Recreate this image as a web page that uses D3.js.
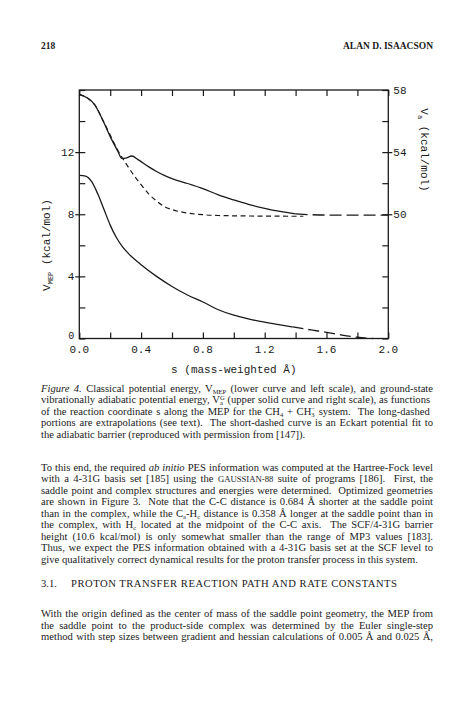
<!DOCTYPE html>
<html><head><meta charset="utf-8">
<script src="https://cdn.jsdelivr.net/npm/d3@7"></script>
<style>
html,body{margin:0;padding:0;background:#fff;}
svg{display:block;}
</style></head>
<body>
<script>
// ---- data ----
const sTicks = [0,0.2,0.4,0.6,0.8,1.0,1.2,1.4,1.6,1.8,2.0];
const sLabels = ["0.0","0.4","0.8","1.2","1.6","2.0"];
const leftTicks = [0,2,4,6,8,10,12,14,16];
const leftLabels = [0,4,8,12];
const rightTicks = [42,44,46,48,50,52,54,56,58];
const rightLabels = [50,54,58];

// V_MEP, lower curve, left scale (solid computed part)
const vmepS = [0,0.04,0.08,0.12,0.16,0.2,0.24,0.28,0.32,0.4,0.5,0.6,0.7,0.8,0.9,1.0,1.1,1.2,1.3,1.38];
const vmepV = [10.5,10.45,10.1,9.3,8.3,7.3,6.5,5.9,5.45,4.75,4.0,3.35,2.8,2.35,1.85,1.5,1.25,1.05,0.88,0.75];
// V_MEP extrapolation (long-dashed)
const vmepExtS = [1.38,1.5,1.6,1.7,1.8,1.9];
const vmepExtV = [0.75,0.55,0.4,0.22,0.08,0.0];

// V_a^G, upper solid curve, right scale
const vagS = [0,0.05,0.1,0.15,0.2,0.25,0.275,0.3,0.34,0.38,0.45,0.5,0.55,0.6,0.7,0.8,0.9,1.0,1.1,1.2,1.3,1.4];
const vagV = [57.72,57.5,57.05,56.1,55.0,54.05,53.6,53.62,53.75,53.52,53.05,52.75,52.5,52.3,51.98,51.65,51.25,50.92,50.62,50.38,50.18,50.02];
// V_a^G extrapolation (long-dashed)
const vagExtS = [1.4,1.5,1.6,1.8,2.0];
const vagExtV = [50.02,49.97,49.95,49.95,49.95];

// Eckart fit, short-dashed, right scale
const eckS = [0,0.05,0.1,0.15,0.2,0.25,0.3,0.35,0.4,0.45,0.5,0.55,0.6,0.7,0.8,0.9,1.0,1.2,1.45];
const eckV = [57.72,57.5,57.05,56.1,55.1,54.1,53.3,52.55,51.9,51.3,50.85,50.5,50.3,50.08,49.97,49.92,49.9,49.88,49.87];

// ---- page text ----
const header = {left:"218", right:"ALAN D. ISAACSON"};
const captionLines = [
 [["i","Figure 4."],["n"," Classical potential energy, V"],["sub","MEP"],["n"," (lower curve and left scale), and ground-state"]],
 [["n","vibrationally adiabatic potential energy, V"],["supsub",["G","a"]],["n"," (upper solid curve and right scale), as functions"]],
 [["n","of the reaction coordinate s along the MEP for the CH"],["sub","4"],["n"," + CH"],["supsub",["\u2212","3"]],["n"," system.  The long-dashed"]],
 [["n","portions are extrapolations (see text).  The short-dashed curve is an Eckart potential fit to"]],
 [["n","the adiabatic barrier (reproduced with permission from [147])."]]
];
const bodyLines = [
 [["n","To this end, the required "],["i","ab initio"],["n"," PES information was computed at the Hartree-Fock level"]],
 [["n","with a 4-31G basis set [185] using the "],["sc","GAUSSIAN-88"],["n"," suite of programs [186].  First, the"]],
 [["n","saddle point and complex structures and energies were determined.  Optimized geometries"]],
 [["n","are shown in Figure 3.  Note that the C-C distance is 0.684 \u00c5 shorter at the saddle point"]],
 [["n","than in the complex, while the C"],["sub","a"],["n","-H"],["sub","c"],["n"," distance is 0.358 \u00c5 longer at the saddle point than in"]],
 [["n","the complex, with H"],["sub","c"],["n"," located at the midpoint of the C-C axis.  The SCF/4-31G barrier"]],
 [["n","height (10.6 kcal/mol) is only somewhat smaller than the range of MP3 values [183]."]],
 [["n","Thus, we expect the PES information obtained with a 4-31G basis set at the SCF level to"]],
 [["n","give qualitatively correct dynamical results for the proton transfer process in this system."]]
];
const heading = ["3.1.", "PROTON TRANSFER REACTION PATH AND RATE CONSTANTS"];
const para2Lines = [
 [["n","With the origin defined as the center of mass of the saddle point geometry, the MEP from"]],
 [["n","the saddle point to the product-side complex was determined by the Euler single-step"]],
 [["n","method with step sizes between gradient and hessian calculations of 0.005 \u00c5 and 0.025 \u00c5,"]]
];

// ---- drawing ----
const W=474, H=718;
const svg = d3.select("body").append("svg").attr("width",W).attr("height",H);
svg.append("rect").attr("width",W).attr("height",H).attr("fill","#fff");

const ink = "#1a1a1a";
const mono = "'Liberation Mono','DejaVu Sans Mono',monospace";
const serif = "'Liberation Serif','DejaVu Serif',serif";

const x = d3.scaleLinear().domain([0,2]).range([79.3,388.3]);
const yL = d3.scaleLinear().domain([0,16]).range([338.5,90]);
const yR = d3.scaleLinear().domain([42,58]).range([338.5,90]);

const g = svg.append("g");
g.append("rect").attr("x",x(0)).attr("y",yL(16)).attr("width",x(2)-x(0)).attr("height",yL(0)-yL(16))
 .attr("fill","none").attr("stroke",ink).attr("stroke-width",1.3);

const tl = 6;
const bAxis = d3.axisBottom(x).tickValues(sTicks).tickSizeInner(-tl).tickSizeOuter(0).tickFormat("");
const axB = g.append("g").attr("transform",`translate(0,${yL(0)})`).call(bAxis);
const tAxis = d3.axisTop(x).tickValues(sTicks).tickSizeInner(-tl).tickSizeOuter(0).tickFormat("");
const axT = g.append("g").attr("transform",`translate(0,${yL(16)})`).call(tAxis);
const lAxis = d3.axisLeft(yL).tickValues(leftTicks).tickSizeInner(-tl).tickSizeOuter(0).tickFormat("");
const axL = g.append("g").attr("transform",`translate(${x(0)},0)`).call(lAxis);
const rAxis = d3.axisRight(yR).tickValues(rightTicks).tickSizeInner(-tl).tickSizeOuter(0).tickFormat("");
const axR = g.append("g").attr("transform",`translate(${x(2)},0)`).call(rAxis);
[axB,axT,axL,axR].forEach(a=>{
  a.select(".domain").remove();
  a.selectAll("line").attr("stroke",ink).attr("stroke-width",1.2);
});
axL.selectAll(".tick").filter(d=>leftLabels.includes(d)&&d!==0).append("line")
  .attr("x1",0).attr("x2",-4).attr("stroke",ink).attr("stroke-width",1.2);
axR.selectAll(".tick").filter(d=>rightLabels.includes(d)&&d!==58).append("line")
  .attr("x1",0).attr("x2",4).attr("stroke",ink).attr("stroke-width",1.2);

g.selectAll(".xl").data(sLabels).join("text")
 .attr("x",d=>x(+d)).attr("y",yL(0)+14.5).attr("text-anchor","middle")
 .attr("font-family",mono).attr("font-size",11).attr("fill",ink).text(d=>d);
g.selectAll(".yl").data(leftLabels).join("text")
 .attr("x",x(0)-5).attr("y",d=>d===0?yL(d)+0.5:yL(d)+3.5).attr("text-anchor","end")
 .attr("font-family",mono).attr("font-size",d=>d===0?10:11).attr("fill",ink).text(d=>d);
g.selectAll(".yr").data(rightLabels).join("text")
 .attr("x",x(2)+5).attr("y",d=>yR(d)+3.5).attr("text-anchor","start")
 .attr("font-family",mono).attr("font-size",11).attr("fill",ink).text(d=>d);

g.append("text").attr("x",(x(0)+x(2))/2).attr("y",yL(0)+34).attr("text-anchor","middle")
 .attr("font-family",mono).attr("font-size",11).attr("fill",ink).text("s (mass-weighted \u00c5)");
const lt = g.append("text").attr("transform",`translate(50,245) rotate(-90)`).attr("text-anchor","middle")
 .attr("font-family",mono).attr("font-size",11).attr("fill",ink);
lt.append("tspan").text("V");
lt.append("tspan").attr("font-size",7).attr("dy",3).text("MEP");
lt.append("tspan").attr("dy",-3).text(" (kcal/mol)");
const rt = g.append("text").attr("transform",`translate(421,150) rotate(90)`).attr("text-anchor","middle")
 .attr("font-family",mono).attr("font-size",11).attr("fill",ink);
rt.append("tspan").text("V");
rt.append("tspan").attr("font-size",7).attr("dy",3).text("a");
rt.append("tspan").attr("dy",-3).text(" (kcal/mol)");

const lineL = d3.line().x(d=>x(d[0])).y(d=>yL(d[1])).curve(d3.curveMonotoneX);
const lineR = d3.line().x(d=>x(d[0])).y(d=>yR(d[1])).curve(d3.curveMonotoneX);
const zip=(a,b)=>a.map((v,i)=>[v,b[i]]);
g.append("path").attr("d",lineR(zip(eckS,eckV))).attr("fill","none").attr("stroke",ink)
 .attr("stroke-width",1.2).attr("stroke-dasharray","5,3.5");
g.append("path").attr("d",lineR(zip(vagS,vagV))).attr("fill","none").attr("stroke",ink).attr("stroke-width",1.3);
g.append("path").attr("d",lineR(zip(vagExtS,vagExtV))).attr("fill","none").attr("stroke",ink)
 .attr("stroke-width",1.3).attr("stroke-dasharray","12,5");
g.append("path").attr("d",lineL(zip(vmepS,vmepV))).attr("fill","none").attr("stroke",ink).attr("stroke-width",1.3);
g.append("path").attr("d",lineL(zip(vmepExtS,vmepExtV))).attr("fill","none").attr("stroke",ink)
 .attr("stroke-width",1.3).attr("stroke-dasharray","11,5");

// ---- page text rendering ----
const fs = 10.6;
const subFs = fs*0.62;
function writeLine(segs, y, justify, x0=41, x1=433){
  const t = svg.append("text").attr("x",x0).attr("y",y).attr("font-family",serif)
    .attr("font-size",fs).attr("fill",ink).style("white-space","pre");
  let shift=0;
  const pairs=[];
  segs.forEach(([k,v])=>{
    if(k==="n"){ t.append("tspan").attr("dy",-shift).text(v); shift=0; }
    else if(k==="i"){ t.append("tspan").attr("dy",-shift).attr("font-style","italic").text(v); shift=0; }
    else if(k==="sc"){ t.append("tspan").attr("dy",-shift).attr("font-size",fs*0.82).text(v); shift=0; }
    else if(k==="sub"){ t.append("tspan").attr("dy",2-shift).attr("font-size",subFs).text(v); shift=2; }
    else if(k==="supsub"){
      const sp = t.append("tspan").attr("dy",-3.5-shift).attr("font-size",subFs).text(v[0]);
      const sb = t.append("tspan").attr("dy",5.5).attr("font-size",subFs).text(v[1]);
      shift=2;
      pairs.push([sp.node(),sb.node()]);
    }
  });
  pairs.forEach(([sp,sb])=>{
    const wSup = sp.getComputedTextLength(), wSub = sb.getComputedTextLength();
    d3.select(sb).attr("dx",-wSup);
    if(sb.nextSibling) d3.select(sb.nextSibling).attr("dx",Math.max(0,wSup-wSub));
  });
  if(justify){
    const nat = t.node().getComputedTextLength();
    const txt = t.text();
    const spaces = (txt.match(/ /g)||[]).length;
    if(spaces>0) t.style("word-spacing",((x1-x0-nat)/spaces)+"px");
  }
  return t;
}

svg.append("text").attr("x",41).attr("y",49).attr("font-family",serif).attr("font-size",9.5)
 .attr("font-weight","bold").attr("fill",ink).text(header.left);
svg.append("text").attr("x",433).attr("y",49).attr("text-anchor","end").attr("font-family",serif).attr("font-size",9.5)
 .attr("font-weight","bold").attr("fill",ink).text(header.right);

const capY0 = 391.5, lh = 11.55;
captionLines.forEach((l,i)=>writeLine(l, capY0+i*lh, i<captionLines.length-1));
const bodyY0 = 470.5;
bodyLines.forEach((l,i)=>writeLine(l, bodyY0+i*lh, i<bodyLines.length-1));
svg.append("text").attr("x",41).attr("y",587).attr("font-family",serif).attr("font-size",fs).attr("fill",ink).text(heading[0]);
svg.append("text").attr("x",71).attr("y",587).attr("font-family",serif).attr("font-size",fs).attr("fill",ink)
 .attr("textLength",326).attr("lengthAdjust","spacing").text(heading[1]);
const p2Y0 = 617;
para2Lines.forEach((l,i)=>writeLine(l, p2Y0+i*lh, true));
</script>
</body></html>
